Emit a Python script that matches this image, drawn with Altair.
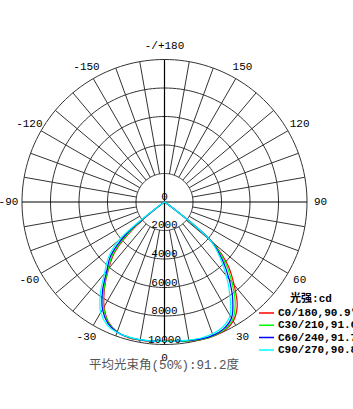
import altair as alt
import pandas as pd
import numpy as np

# ---- data ----
GAMMA = list(range(-60, 65, 5))
SERIES = ["C0/180,90.9°", "C30/210,91.6°", "C60/240,91.7°", "C90/270,90.8°"]
COLORS = ["#ff0000", "#00ff00", "#0000ff", "#00ffff"]
# intensities (cd) for gamma -60 .. 60 step 5
I_C0 = [0, 150, 2600, 4900, 6100, 7330, 8480, 9300, 9700, 9850, 9840, 9810,
        9780,
        9820, 9900, 10000, 10030, 9960, 9650, 8900, 7600, 6300, 4400, 300, 0]
I_C30 = [0, 200, 3000, 5100, 6150, 7400, 8550, 9330, 9700, 9830, 9830, 9810,
         9780,
         9820, 9890, 9980, 10000, 9900, 9550, 8650, 7350, 6050, 4300, 400, 0]
I_C60 = [0, 250, 3500, 5350, 6300, 7580, 8700, 9400, 9720, 9810, 9820, 9800,
         9780,
         9810, 9870, 9950, 9960, 9820, 9400, 8350, 7050, 5750, 4250, 450, 0]
I_C90 = [0, 300, 4200, 5600, 6550, 7850, 8950, 9530, 9750, 9800, 9810, 9800,
         9780,
         9800, 9840, 9880, 9850, 9680, 9200, 8000, 6750, 5500, 4200, 500, 0]
CURVES = [I_C0, I_C30, I_C60, I_C90]

RINGS = [2000, 4000, 6000, 8000, 10000]
RING_LABEL_VALUES = [0, 2000, 4000, 6000, 8000, 10000]
RING_LABELS = ["0", "2000", "4000", "6000", "8000", "10000"]
ANGLE_TICKS = [-150, -120, -90, -60, -30, 0, 30, 60, 90, 120, 150, 180]
ANGLE_LABELS = ["-150", "-120", "-90", "-60", "-30", "0", "30", "60", "90",
                "120", "150", "-/+180"]
TITLE = "平均光束角(50%):91.2度"
LEGEND_TITLE = "光强:cd"

R_MAX = 10000
R_LABEL = 10950
XD = [-11544, 13228]
YD = [-14526, 14175]


def pol(r, deg):
    a = np.radians(deg)
    return r * np.sin(a), -r * np.cos(a)


# curves
rows = []
for name, vals in zip(SERIES, CURVES):
    for g, v in zip(GAMMA, vals):
        x, y = pol(v, g)
        rows.append({"series": name, "g": g, "x": x, "y": y})
curve_df = pd.DataFrame(rows)

# rings
ring_rows = []
for r in RINGS:
    for a in range(0, 362, 2):
        x, y = pol(r, a)
        ring_rows.append({"r": r, "a": a, "x": x, "y": y})
ring_df = pd.DataFrame(ring_rows)

# spokes
sp_rows = []
for a in range(0, 360, 10):
    if a % 90 == 0:
        continue
    x1, y1 = pol(RINGS[0], a)
    x2, y2 = pol(R_MAX, a)
    sp_rows.append({"x": x1, "y": y1, "x2": x2, "y2": y2})
spoke_df = pd.DataFrame(sp_rows)

ax_rows = []
for a in (0, 90):
    x1, y1 = pol(R_MAX, a)
    x2, y2 = pol(R_MAX, a + 180)
    ax_rows.append({"x": x1, "y": y1, "x2": x2, "y2": y2})
axis_df = pd.DataFrame(ax_rows)

alab = []
for t, l in zip(ANGLE_TICKS, ANGLE_LABELS):
    x, y = pol(R_LABEL, t)
    alab.append({"x": x, "y": y, "label": l})
alab_df = pd.DataFrame(alab)

rlab_df = pd.DataFrame({"x": [0] * len(RING_LABEL_VALUES),
                        "y": [-v for v in RING_LABEL_VALUES],
                        "label": RING_LABELS})

xs = alt.Scale(domain=XD, nice=False, zero=False)
ys = alt.Scale(domain=YD, nice=False, zero=False)


def X(f="x"):
    return alt.X(f, type="quantitative", scale=xs, axis=None)


def Y(f="y"):
    return alt.Y(f, type="quantitative", scale=ys, axis=None)


FONT = "Liberation Mono"

rings = alt.Chart(ring_df).mark_line(color="#333333", strokeWidth=1).encode(
    x=X(), y=Y(), detail="r:N", order="a:Q")

spokes = alt.Chart(spoke_df).mark_rule(color="#333333", strokeWidth=1).encode(
    x=X(), y=Y(), x2="x2:Q", y2="y2:Q")

axes = alt.Chart(axis_df).mark_rule(color="#000000", strokeWidth=1.2).encode(
    x=X(), y=Y(), x2="x2:Q", y2="y2:Q")

curves = alt.Chart(curve_df).mark_line(strokeWidth=1.2, interpolate="catmull-rom").encode(
    x=X(), y=Y(), order="g:Q",
    color=alt.Color("series:N",
                    scale=alt.Scale(domain=SERIES, range=COLORS),
                    legend=alt.Legend(
                        title=LEGEND_TITLE, orient="none", legendX=258, legendY=293,
                        titleFont=FONT + ", Noto Sans CJK SC", titleFontSize=11,
                        titleFontWeight="bold", titleColor="#000000",
                        titleAnchor="middle", titlePadding=3,
                        labelFont=FONT, labelFontSize=11, labelColor="#000000",
                        labelFontWeight="bold", labelOffset=3,
                        symbolType="stroke", symbolSize=225, symbolStrokeWidth=1.5,
                        clipHeight=12, rowPadding=0.3, padding=0, labelLimit=200)))

angle_text = alt.Chart(alab_df).mark_text(
    font=FONT, fontSize=11, color="#000000", align="center", baseline="middle").encode(
    x=X(), y=Y(), text="label:N")

ring_text = alt.Chart(rlab_df).mark_text(
    font=FONT, fontSize=11, color="#000000", align="center", baseline="middle", dy=-5).encode(
    x=X(), y=Y(), text="label:N")

title_text = alt.Chart(pd.DataFrame({"t": [TITLE]})).mark_text(
    font=FONT + ", Noto Sans CJK SC", fontSize=12.5, color="#555555",
    align="center", baseline="middle").encode(
    x=alt.value(164), y=alt.value(365), text="t:N")

chart = alt.layer(rings, spokes, axes, curves, angle_text, ring_text, title_text).properties(
    width=353, height=409, padding=0,
    autosize=alt.AutoSizeParams(type="none"),
).configure_view(stroke=None)

chart.save("out.html", embed_options={"renderer": "svg", "actions": False})
